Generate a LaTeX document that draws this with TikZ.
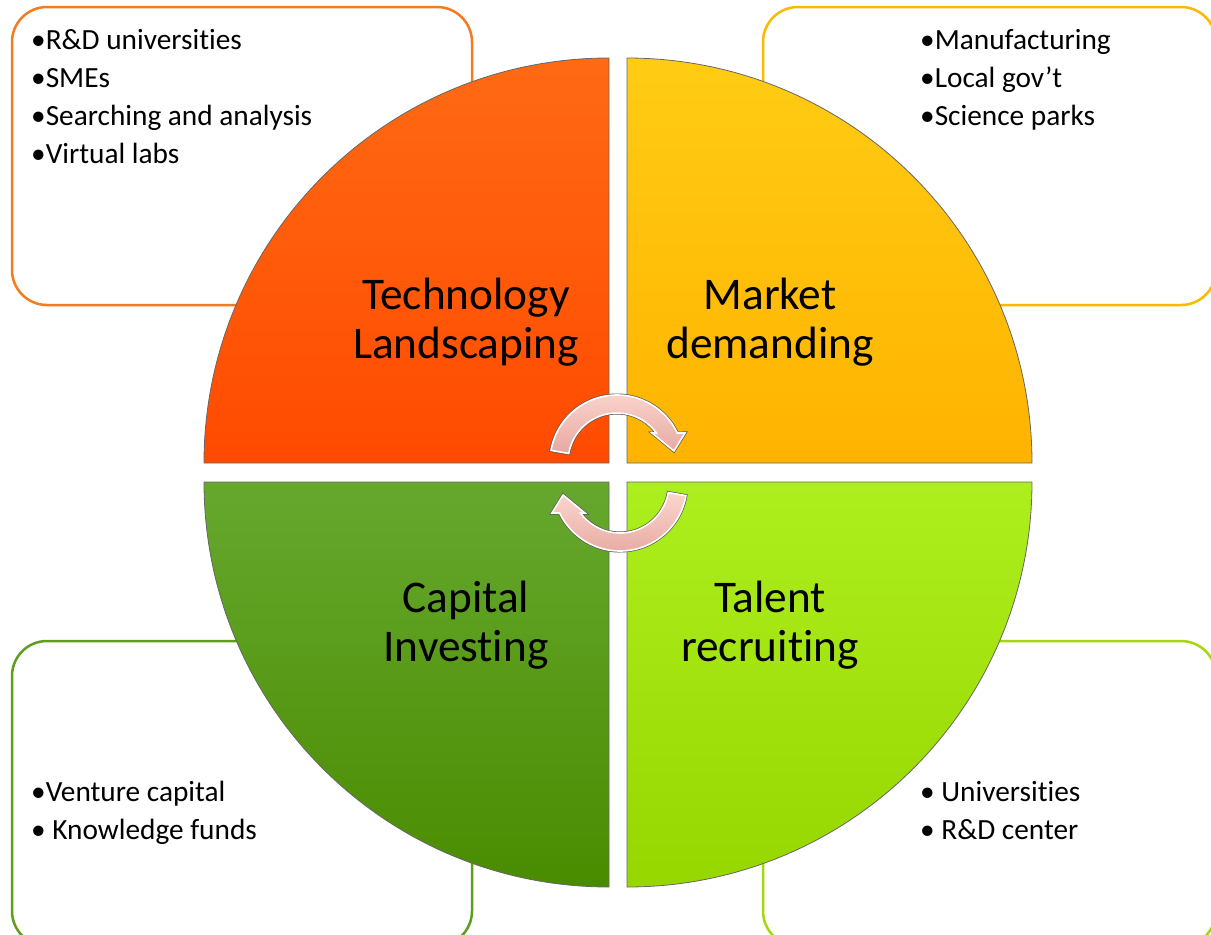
\documentclass[tikz,border=0pt]{standalone}
\usepackage{fontspec}
\setmainfont{Carlito}[Ligatures={NoCommon}]
\usetikzlibrary{calc}
\definecolor{boxTL}{HTML}{F47B20}
\definecolor{boxTR}{HTML}{FBB900}
\definecolor{boxBL}{HTML}{5E9E1C}
\definecolor{boxBR}{HTML}{A6D70E}
\definecolor{tlTop}{HTML}{FF6A14}
\definecolor{tlBot}{HTML}{FF4A00}
\definecolor{trTop}{HTML}{FFCC14}
\definecolor{trBot}{HTML}{FFB300}
\definecolor{blTop}{HTML}{66A82E}
\definecolor{blBot}{HTML}{4A8C00}
\definecolor{brTop}{HTML}{ADEE1E}
\definecolor{brBot}{HTML}{96D700}
\definecolor{arrTop}{HTML}{FBD6CE}
\definecolor{arrBot}{HTML}{E6A9A1}
\definecolor{faintG}{HTML}{F2F6E6}
\definecolor{faintB}{HTML}{E5EFF7}
\newcommand\cycarrow[2]{($(#1)+(190+#2:67)$) arc[start angle=190+#2, end angle=334.4+#2, radius=67]
 -- ($(#1)+(336.9+#2:74)$) -- ($(#1)+(349.1+#2:58)$) -- ($(#1)+(320.4+#2:45.5)$) -- ($(#1)+(323.7+#2:49)$)
 arc[start angle=323.7+#2, end angle=190+#2, radius=49] -- cycle}
\begin{document}
\begin{tikzpicture}[x=1pt,y=-1pt,
  box/.style={rounded corners=35pt, line width=2.5pt, fill=white},
  quad/.style={draw=black!60, line width=0.8pt},
  quadlabel/.style={font=\fontsize{45.3}{49}\selectfont, align=center, text=black, inner sep=0pt},
  item/.style={font=\fontsize{29.3}{38}\selectfont, anchor=base west, inner sep=0pt, text=black},
  arrline/.style={draw=black!65, line width=3pt},
  arrfill/.style={top color=arrTop, bottom color=arrBot, draw=white, line width=1.6pt}]
\useasboundingbox (0,0) rectangle (1211,935);
\clip (0,0) rectangle (1211,935);
% faint background marks
\fill[faintG] (390,965) circle[radius=52];
\fill[faintB] (863,918) rectangle (960,940);
% boxes
\draw[box, draw=boxTL] (12,7) rectangle (472,305);
\draw[box, draw=boxTR] (763,7) rectangle (1216,305);
\draw[box, draw=boxBL] (12,641) rectangle (472,946);
\draw[box, draw=boxBR] (763,641) rectangle (1216,946);
% quadrants
\path[quad, top color=tlTop, bottom color=tlBot] (609,463) -- (204,463) arc[start angle=180, end angle=270, radius=405] -- cycle;
\path[quad, top color=trTop, bottom color=trBot] (627,463) -- (627,58) arc[start angle=270, end angle=360, radius=405] -- cycle;
\path[quad, top color=blTop, bottom color=blBot] (609,482) -- (609,887) arc[start angle=90, end angle=180, radius=405] -- cycle;
\path[quad, top color=brTop, bottom color=brBot] (627,482) -- (1032,482) arc[start angle=0, end angle=90, radius=405] -- cycle;
% labels
\node[quadlabel] (tech) at (466,322) {Technology\\Landscaping};
\node[quadlabel] (market) at (770,322) {Market\\demanding};
\node[quadlabel] (capital) at (466,625) {Capital\\Investing};
\node[quadlabel] (talent) at (770,625) {Talent\\recruiting};
% cycle arrows
\coordinate (ca) at (617,462);
\coordinate (cb) at (620,484);
\path[arrline] \cycarrow{ca}{0};
\path[arrfill] \cycarrow{ca}{0};
\path[arrline] \cycarrow{cb}{180};
\path[arrfill] \cycarrow{cb}{180};
% lists
\node[item] (tl1) at (31,49) {•R\&D universities};
\node[item] (tl2) at (31,87) {•SMEs};
\node[item] (tl3) at (31,125) {•Searching and analysis};
\node[item] (tl4) at (31,163) {•Virtual labs};
\node[item] (tr1) at (920,49) {•Manufacturing};
\node[item] (tr2) at (920,87) {•Local gov’t};
\node[item] (tr3) at (920,125) {•Science parks};
\node[item] (bl1) at (31,801) {•Venture capital};
\node[item] (bl2) at (31,839) {• Knowledge funds};
\node[item] (br1) at (920,801) {• Universities};
\node[item] (br2) at (920,839) {• R\&D center};
\end{tikzpicture}
\end{document}
